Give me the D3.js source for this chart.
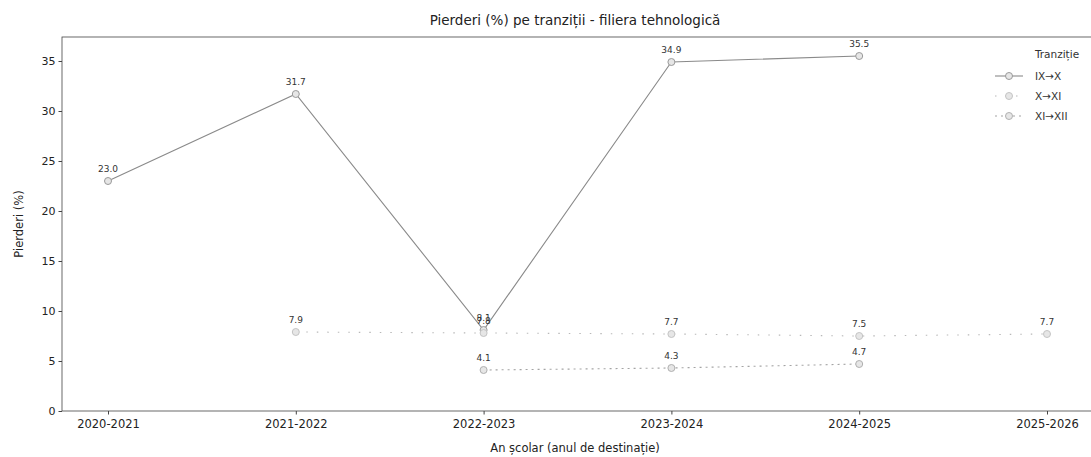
<!DOCTYPE html>
<html>
<head>
<meta charset="utf-8">
<script src="https://cdn.jsdelivr.net/npm/d3@7"></script>
<style>
  body { margin: 0; background: #fff; }
  text { font-family: "DejaVu Sans", sans-serif; }
</style>
</head>
<body>
<script>
const years = ["2020-2021", "2021-2022", "2022-2023", "2023-2024", "2024-2025", "2025-2026"];
const seriesNames = ["IX→X", "X→XI", "XI→XII"];
const ixToX = [23.0, 31.7, 8.1, 34.9, 35.5, null];
const xToXi = [null, 7.9, 7.8, 7.7, 7.5, 7.7];
const xiToXii = [null, null, 4.1, 4.3, 4.7, null];
const yTicks = [0, 5, 10, 15, 20, 25, 30, 35];

const width = 1091;
const height = 457;
const plotLeft = 62, plotRight = 1093, plotTop = 37, plotBottom = 411;

const svg = d3.select("body").append("svg")
    .attr("width", width)
    .attr("height", height);

const xScale = d3.scaleLinear()
    .domain([-0.245, years.length - 1 + 0.245])
    .range([plotLeft, plotRight]);

const yScale = d3.scaleLinear()
    .domain([0, 37.4])
    .range([plotBottom, plotTop]);

// frame
svg.append("rect")
    .attr("x", plotLeft).attr("y", plotTop)
    .attr("width", plotRight - plotLeft).attr("height", plotBottom - plotTop)
    .attr("fill", "none")
    .attr("stroke", "#444")
    .attr("stroke-width", 0.8);

// axes
const xAxis = d3.axisBottom(xScale)
    .tickValues(d3.range(years.length))
    .tickFormat(i => years[i])
    .tickSize(3.5);
svg.append("g")
    .attr("transform", "translate(0," + plotBottom + ")")
    .call(xAxis)
    .call(g => g.select(".domain").remove())
    .call(g => g.selectAll("text").attr("font-size", 11.5).attr("fill", "#222").attr("dy", "0.9em"))
    .call(g => g.selectAll("line").attr("stroke", "#444"));

const yAxis = d3.axisLeft(yScale)
    .tickValues(yTicks)
    .tickSize(3.5);
svg.append("g")
    .attr("transform", "translate(" + plotLeft + ",0)")
    .call(yAxis)
    .call(g => g.select(".domain").remove())
    .call(g => g.selectAll("text").attr("font-size", 11).attr("fill", "#222"))
    .call(g => g.selectAll("line").attr("stroke", "#444"));

// titles
svg.append("text")
    .attr("x", 575).attr("y", 25)
    .attr("text-anchor", "middle")
    .attr("font-size", 13.5)
    .attr("fill", "#222")
    .text("Pierderi (%) pe tranziții - filiera tehnologică");

svg.append("text")
    .attr("x", 575).attr("y", 452)
    .attr("text-anchor", "middle")
    .attr("font-size", 11.5)
    .attr("fill", "#222")
    .text("An școlar (anul de destinație)");

svg.append("text")
    .attr("transform", "translate(23," + ((plotTop + plotBottom) / 2) + ") rotate(-90)")
    .attr("text-anchor", "middle")
    .attr("font-size", 11.5)
    .attr("fill", "#222")
    .text("Pierderi (%)");

const seriesList = [
    { name: seriesNames[0], values: ixToX, color: "#8a8a8a", dash: null, marker: "#9a9a9a" },
    { name: seriesNames[1], values: xToXi, color: "#b8b8b8", dash: "1.5,9", marker: "#c4c4c4" },
    { name: seriesNames[2], values: xiToXii, color: "#a4a4a4", dash: "2,4", marker: "#b0b0b0" }
];

const line = d3.line()
    .defined(d => d.v !== null)
    .x(d => xScale(d.i))
    .y(d => yScale(d.v));

seriesList.forEach(s => {
    const pts = s.values.map((v, i) => ({ i: i, v: v }));
    svg.append("path")
        .datum(pts)
        .attr("d", line)
        .attr("fill", "none")
        .attr("stroke", s.color)
        .attr("stroke-width", 1.1)
        .attr("stroke-dasharray", s.dash);

    const valid = pts.filter(d => d.v !== null);
    svg.selectAll(null)
        .data(valid)
        .enter()
        .append("circle")
        .attr("cx", d => xScale(d.i))
        .attr("cy", d => yScale(d.v))
        .attr("r", 3.5)
        .attr("fill", "#e6e6e6")
        .attr("stroke", s.marker)
        .attr("stroke-width", 1);

    svg.selectAll(null)
        .data(valid)
        .enter()
        .append("text")
        .attr("x", d => xScale(d.i))
        .attr("y", d => yScale(d.v) - 9)
        .attr("text-anchor", "middle")
        .attr("font-size", 9)
        .attr("fill", "#333")
        .text(d => d.v.toFixed(1));
});

// legend
const legend = svg.append("g").attr("transform", "translate(995,58)");
legend.append("text")
    .attr("x", 62).attr("y", 0)
    .attr("text-anchor", "middle")
    .attr("font-size", 10.5)
    .attr("fill", "#333")
    .text("Tranziție");

seriesList.forEach((s, k) => {
    const y = 22 + k * 20;
    legend.append("line")
        .attr("x1", 0).attr("x2", 28)
        .attr("y1", y - 4).attr("y2", y - 4)
        .attr("stroke", s.color)
        .attr("stroke-width", 1.1)
        .attr("stroke-dasharray", s.dash);
    legend.append("circle")
        .attr("cx", 14).attr("cy", y - 4)
        .attr("r", 3.5)
        .attr("fill", "#e6e6e6")
        .attr("stroke", s.marker);
    legend.append("text")
        .attr("x", 40).attr("y", y)
        .attr("font-size", 10.5)
        .attr("fill", "#333")
        .text(s.name);
});
</script>
</body>
</html>
